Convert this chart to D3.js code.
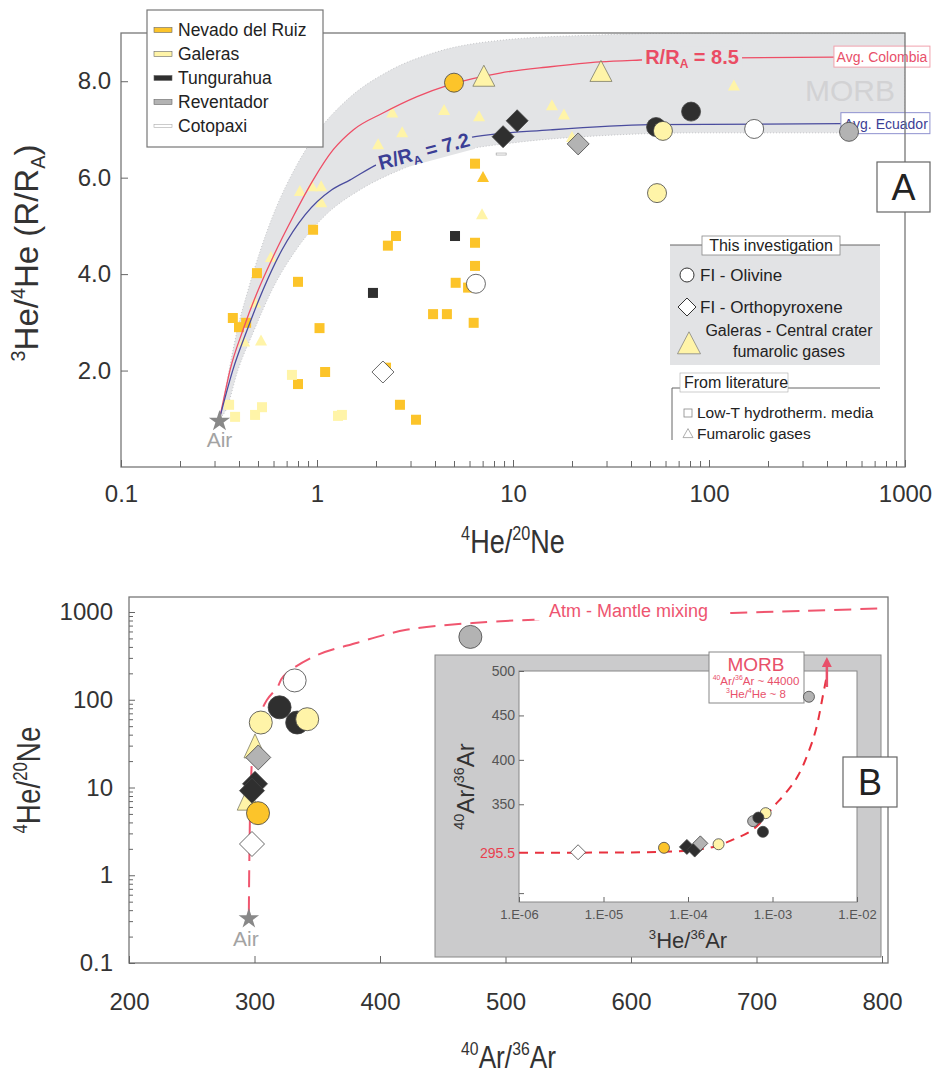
<!DOCTYPE html>
<html>
<head>
<meta charset="utf-8">
<script src="https://cdn.jsdelivr.net/npm/d3@7"></script>
<style>
  body { margin: 0; background: #fff; }
  svg { display: block; }
</style>
</head>
<body>
<div id="wrapper"></div>
<script>
/* ===== DATA : panel A  (4He/20Ne vs 3He/4He R/RA) ===== */
const volcanoNames = ['Nevado del Ruiz', 'Galeras', 'Tungurahua', 'Reventador', 'Cotopaxi'];
const volcanoFills = ['#fcc42a', '#fff4a8', '#2f2f2f', '#b3b3b3', '#ffffff'];

// literature, low-T hydrothermal media  [He/Ne, R/RA, volcano]
const litSquares = [
  [0.955, 4.92, 0], [0.494, 4.02, 0], [0.80, 3.84, 0], [0.372, 3.09, 0], [0.40, 2.90, 0],
  [0.435, 2.99, 0], [1.03, 2.88, 0], [1.10, 1.97, 0], [0.80, 1.72, 0],
  [6.40, 6.29, 0], [2.53, 4.79, 0], [2.30, 4.59, 0], [6.40, 4.65, 0], [6.40, 4.17, 0],
  [5.1, 3.82, 0], [5.9, 3.72, 0], [3.91, 3.17, 0], [4.60, 3.17, 0], [6.3, 2.99, 0],
  [2.25, 2.06, 0], [2.65, 1.29, 0], [3.2, 0.98, 0],
  [0.745, 1.91, 1], [0.356, 1.29, 1], [0.382, 1.04, 1], [0.483, 1.08, 1], [0.524, 1.24, 1],
  [1.28, 1.06, 1], [1.34, 1.08, 1],
  [5.06, 4.79, 2], [1.93, 3.61, 2]
];
// literature, fumarolic gases
const litTriangles = [
  [0.818, 5.71, 1], [0.942, 5.81, 1], [1.05, 5.81, 1], [1.05, 5.48, 1], [0.582, 4.34, 1],
  [0.483, 3.40, 1], [0.425, 2.59, 1], [0.518, 2.61, 1], [2.42, 7.34, 1], [4.45, 7.39, 1],
  [6.71, 7.26, 1], [2.72, 6.93, 1], [2.05, 6.68, 1], [15.8, 7.49, 1], [18.2, 7.30, 1],
  [20, 6.83, 1], [134, 7.90, 1], [6.95, 5.23, 1], [7.03, 6.0, 0]
];
const litBars = [[8.7, 6.49, 4]];

// this investigation
const olivineA = [[5.0, 7.97, 0], [81, 7.37, 2], [53.7, 7.05, 2], [58.2, 6.97, 1],
  [170, 7.01, 4], [518, 6.95, 3], [54.3, 5.68, 1], [6.47, 3.80, 4]];
const opxA = [[10.5, 7.18, 2], [8.9, 6.85, 2], [21.5, 6.70, 3], [2.17, 1.97, 4]];
const craterA = [[7.1, 8.07], [28.1, 8.17]];
const airA = [0.318, 0.95];

const curve85 = [[0.318, 1.0], [0.331, 1.33], [0.360, 2.01], [0.419, 2.84], [0.494, 3.61],
  [0.597, 4.36], [0.755, 5.19], [0.955, 5.95], [1.21, 6.58], [1.53, 6.99], [2.17, 7.34],
  [3.24, 7.68], [4.77, 7.93], [8.59, 8.17], [15.5, 8.30], [27.8, 8.40], [44.5, 8.44],
  [90, 8.48], [434, 8.5]];
const curve72 = [[0.318, 1.0], [0.372, 2.01], [0.440, 2.84], [0.530, 3.67], [0.662, 4.50],
  [0.869, 5.23], [1.19, 5.75], [1.47, 5.95], [2.02, 6.27], [3.36, 6.58], [6.40, 6.85],
  [15.5, 6.99], [50, 7.10], [471, 7.12]];
const morbTop = [[0.318, 1.0], [0.326, 1.18], [0.356, 2.01], [0.392, 2.84], [0.445, 3.67],
  [0.515, 4.50], [0.612, 5.33], [0.765, 6.16], [1.0, 6.93], [1.42, 7.61], [2.3, 8.20],
  [4.1, 8.61], [9.2, 8.86], [27.8, 8.96], [90, 9.0], [1000, 9.0]];
const morbBottom = [[0.318, 1.0], [0.343, 1.18], [0.395, 2.01], [0.478, 2.84], [0.589, 3.67],
  [0.781, 4.50], [1.11, 5.23], [1.66, 5.75], [2.65, 6.16], [4.77, 6.51], [10.9, 6.74],
  [27.8, 6.87], [90, 6.93], [1000, 6.93]];

const xTicksA = [0.1, 1, 10, 100, 1000];
const yTicksA = [2, 4, 6, 8];

/* ===== DATA : panel B  (40Ar/36Ar vs 4He/20Ne) ===== */
const olivineB = [[302.8, 5.1, 0], [320, 82, 2], [334, 55, 2], [305, 55, 1], [342, 60, 1],
  [332, 166, 4], [472, 520, 3]];
const opxB = [[300.4, 11, 2], [298, 9.2, 2], [303, 22, 3], [298, 2.27, 4]];
const craterB = [[295, 7.1], [300.4, 28]];
const airB = [295.5, 0.32];
const mixingB = [[295.5, 0.37], [296, 2], [297, 10], [299, 30], [303, 60], [310, 100],
  [318, 137], [323, 185], [347, 310], [382, 447], [421, 626], [474, 750], [560, 860],
  [650, 950], [740, 1030], [798, 1100]];
const xTicksB = [200, 300, 400, 500, 600, 700, 800];
const yTicksB = [0.1, 1, 10, 100, 1000];

/* ===== DATA : inset  (3He/36Ar vs 40Ar/36Ar) ===== */
const olivineI = [[5.2e-5, 301, 0], [2.3e-4, 305, 1], [5.9e-4, 331, 3], [8.3e-4, 340, 1],
  [6.8e-4, 335, 2], [7.7e-4, 319, 2], [2.7e-3, 471, 3]];
const opxI = [[5.0e-6, 296, 4], [9.7e-5, 302, 2], [1.2e-4, 299, 2], [1.4e-4, 306, 3]];
const mixingI = [[1e-6, 295.5], [1e-5, 295.6], [5e-5, 296.5], [1e-4, 298], [2e-4, 302],
  [3.2e-4, 309], [7e-4, 328], [1e-3, 346], [1.5e-3, 365], [2e-3, 382], [2.6e-3, 406],
  [3.4e-3, 441], [4e-3, 475], [4.4e-3, 495]];
const morbArrowI = [4.4e-3, 482, 510];
const xTicksI = [1e-6, 1e-5, 1e-4, 1e-3, 1e-2];
const xTickLabelsI = ['1.E-06', '1.E-05', '1.E-04', '1.E-03', '1.E-02'];
const yTicksI = [250, 350, 400, 450, 500];
const airArI = 295.5;

/* ===== LAYOUT ===== */
const FONT = '"Liberation Sans", Arial, sans-serif';
const frameA = { left: 121, right: 905, top: 33, bottom: 467 };
const frameB = { left: 129, right: 888, top: 597, bottom: 963 };
const inset = { left: 519, right: 857, top: 671, bottom: 902 };

const xA = d3.scaleLog().domain([0.1, 1000]).range([frameA.left, frameA.right]);
const yA = d3.scaleLinear().domain([0, 9]).range([frameA.bottom, frameA.top]);
const xB = d3.scaleLinear().domain([200, 800]).range([frameB.left, 882]);
const yB = d3.scaleLog().domain([0.1, 1000]).range([frameB.bottom, 612]);
const xI = d3.scaleLog().domain([1e-6, 1e-2]).range([inset.left, inset.right]);
const yI = d3.scaleLinear().domain([240, 500]).range([inset.bottom, inset.top]);

const svg = d3.select('#wrapper').append('svg')
  .attr('width', 938).attr('height', 1077)
  .attr('font-family', FONT);

const defs = svg.append('defs');
defs.append('clipPath').attr('id', 'clipA').append('rect')
  .attr('x', frameA.left).attr('y', frameA.top)
  .attr('width', frameA.right - frameA.left).attr('height', frameA.bottom - frameA.top);
defs.append('marker').attr('id', 'arrow').attr('viewBox', '0 0 10 10')
  .attr('refX', 5).attr('refY', 5).attr('markerWidth', 4).attr('markerHeight', 4)
  .attr('orient', 'auto-start-reverse')
  .append('path').attr('d', 'M0,0L10,5L0,10Z').attr('fill', '#e8506a');

// helper: text with super/subscripts
function rich(text, parts, size) {
  parts.forEach(p => {
    const [t, kind] = Array.isArray(p) ? p : [p, null];
    const ts = text.append('tspan').text(t);
    if (kind === 'sup') ts.attr('font-size', size * 0.6).attr('baseline-shift', size * 0.4);
    if (kind === 'sub') ts.attr('font-size', size * 0.6).attr('baseline-shift', -size * 0.2);
  });
  return text;
}
// axis title, optionally condensed (the original uses a narrow face for some)
function axisTitle(x, y, rotate, parts, size, squeeze) {
  const g = svg.append('g')
    .attr('transform', `translate(${x},${y}) rotate(${rotate}) scale(${squeeze},1)`);
  return rich(g.append('text').attr('text-anchor', 'middle').attr('font-size', size)
    .attr('fill', '#333'), parts, size);
}
const diamondPath = (cx, cy, r) => `M${cx},${cy - r}L${cx + r},${cy}L${cx},${cy + r}L${cx - r},${cy}Z`;
const trianglePath = (cx, cy, w, h) =>
  `M${cx},${cy - h * 0.6}L${cx + w / 2},${cy + h * 0.4}L${cx - w / 2},${cy + h * 0.4}Z`;
const minorLogTicks = (lo, hi) => {
  const out = [];
  for (let e = lo; e < hi; e++) for (let m = 2; m <= 9; m++) out.push(m * 10 ** e);
  return out;
};
function styleAxis(g, size, color) {
  g.select('.domain').remove();
  g.selectAll('.tick line').attr('stroke', '#666');
  g.selectAll('.tick text').attr('font-size', size).attr('fill', color || '#333')
    .attr('font-family', FONT);
}

/* ================= PANEL A ================= */
const plotA = svg.append('g').attr('clip-path', 'url(#clipA)');

const bandLine = d3.line().x(d => xA(d[0])).y(d => yA(d[1])).curve(d3.curveMonotoneX);
const bandPath = bandLine(morbTop) + 'L' + bandLine(morbBottom.slice().reverse()).slice(1) + 'Z';
plotA.append('path').attr('d', bandPath)
  .attr('fill', '#e3e4e6').attr('stroke', '#c4c5c8').attr('stroke-width', 1)
  .attr('stroke-dasharray', '1,2');

plotA.append('text').attr('x', 850).attr('y', yA(7.75)).attr('text-anchor', 'middle')
  .attr('dominant-baseline', 'middle').attr('font-size', 30).attr('fill', '#d2d2d4')
  .text('MORB');

const curveGen = d3.line().x(d => xA(d[0])).y(d => yA(d[1])).curve(d3.curveMonotoneX);
svg.append('path').attr('d', curveGen(curve85)).attr('fill', 'none')
  .attr('stroke', '#ee4e66').attr('stroke-width', 1.3);
svg.append('path').attr('d', curveGen(curve72)).attr('fill', 'none')
  .attr('stroke', '#4a4c9e').attr('stroke-width', 1.3);

// literature symbols
plotA.selectAll('rect.lit').data(litSquares).join('rect').attr('class', 'lit')
  .attr('x', d => xA(d[0]) - 5).attr('y', d => yA(d[1]) - 5)
  .attr('width', 10).attr('height', 10)
  .attr('fill', d => volcanoFills[d[2]]);
plotA.selectAll('path.littri').data(litTriangles).join('path').attr('class', 'littri')
  .attr('d', d => trianglePath(xA(d[0]), yA(d[1]), 12, 11))
  .attr('fill', d => volcanoFills[d[2]]);
plotA.selectAll('rect.bar').data(litBars).join('rect').attr('class', 'bar')
  .attr('x', d => xA(d[0]) - 5).attr('y', d => yA(d[1]) - 1)
  .attr('width', 10).attr('height', 2).attr('fill', '#fff').attr('stroke', '#999')
  .attr('stroke-width', 0.6);

// curve labels
const lab85 = svg.append('g')
  .attr('transform', `translate(${xA(curve85[15][0]) + 92},${yA(8.5)})`);
lab85.append('rect').attr('x', -50).attr('y', -11).attr('width', 100).attr('height', 22)
  .attr('fill', '#e3e4e6');
rich(lab85.append('text').attr('text-anchor', 'middle').attr('y', 7)
  .attr('font-size', 20).attr('font-weight', 'bold').attr('fill', '#ea4d64'),
  ['R/R', ['A', 'sub'], ' = 8.5'], 20);

const lab72 = svg.append('g')
  .attr('transform', `translate(424,${yA(6.55)}) rotate(-15)`);
lab72.append('rect').attr('x', -50).attr('y', -11).attr('width', 100).attr('height', 22)
  .attr('fill', '#e3e4e6');
rich(lab72.append('text').attr('text-anchor', 'middle').attr('y', 7)
  .attr('font-size', 20).attr('font-weight', 'bold').attr('fill', '#3b3e95'),
  ['R/R', ['A', 'sub'], ' = 7.2'], 20);

const endR = curve85[curve85.length - 1];
svg.append('rect').attr('x', xA(endR[0])).attr('y', yA(endR[1]) - 11)
  .attr('width', 96).attr('height', 21).attr('fill', '#fff').attr('stroke', '#f1a2ad');
svg.append('text').attr('x', xA(endR[0]) + 48).attr('y', yA(endR[1]) + 5)
  .attr('text-anchor', 'middle').attr('font-size', 14).attr('fill', '#e8506a')
  .text('Avg. Colombia');
const endB = curve72[curve72.length - 1];
svg.append('rect').attr('x', xA(endB[0])).attr('y', yA(endB[1]) - 11)
  .attr('width', 89).attr('height', 21).attr('fill', '#fff').attr('stroke', '#8f91cf');
svg.append('text').attr('x', xA(endB[0]) + 45).attr('y', yA(endB[1]) + 5)
  .attr('text-anchor', 'middle').attr('font-size', 14).attr('fill', '#3b3e95')
  .text('Avg. Ecuador');

// air star
const star = d3.symbol().type(d3.symbolStar);
svg.append('path').attr('d', star.size(140)())
  .attr('transform', `translate(${xA(airA[0])},${yA(airA[1])})`).attr('fill', '#888');
svg.append('text').attr('x', xA(airA[0])).attr('y', yA(airA[1]) + 26)
  .attr('text-anchor', 'middle').attr('font-size', 21).attr('fill', '#a3a3a3').text('Air');

// this investigation
svg.selectAll('path.craterA').data(craterA).join('path').attr('class', 'craterA')
  .attr('d', d => trianglePath(xA(d[0]), yA(d[1]), 22, 21))
  .attr('fill', '#fff4a8').attr('stroke', '#6b6b5a').attr('stroke-width', 0.7);
svg.selectAll('path.opxA').data(opxA).join('path').attr('class', 'opxA')
  .attr('d', d => diamondPath(xA(d[0]), yA(d[1]), 11))
  .attr('fill', d => volcanoFills[d[2]]).attr('stroke', '#444').attr('stroke-width', 0.8);
svg.selectAll('circle.olA').data(olivineA).join('circle').attr('class', 'olA')
  .attr('cx', d => xA(d[0])).attr('cy', d => yA(d[1])).attr('r', 9.5)
  .attr('fill', d => volcanoFills[d[2]]).attr('stroke', '#444').attr('stroke-width', 0.8);

// frame + axes
svg.append('rect').attr('x', frameA.left).attr('y', frameA.top)
  .attr('width', frameA.right - frameA.left).attr('height', frameA.bottom - frameA.top)
  .attr('fill', 'none').attr('stroke', '#777').attr('stroke-width', 1.3);

const xAxisA = svg.append('g').attr('transform', `translate(0,${frameA.bottom})`)
  .call(d3.axisBottom(xA).tickValues(xTicksA).tickFormat(d => String(d))
    .tickSize(-7).tickPadding(18));
styleAxis(xAxisA, 24);
const xMinorA = svg.append('g').attr('transform', `translate(0,${frameA.bottom})`)
  .call(d3.axisBottom(xA).tickValues(minorLogTicks(-1, 3)).tickFormat('').tickSize(-6));
styleAxis(xMinorA, 24);

const yAxisA = svg.append('g').attr('transform', `translate(${frameA.left},0)`)
  .call(d3.axisLeft(yA).tickValues(yTicksA).tickFormat(d3.format('.1f'))
    .tickSize(-7).tickPadding(10));
styleAxis(yAxisA, 24);

axisTitle((frameA.left + frameA.right) / 2, 553, 0,
  [['4', 'sup'], 'He/', ['20', 'sup'], 'Ne'], 33, 0.82);
axisTitle(38, (frameA.top + frameA.bottom) / 2 + 3, -90,
  [['3', 'sup'], 'He/', ['4', 'sup'], 'He (R/R', ['A', 'sub'], ')'], 33, 1);

// legend: volcanoes
const legV = svg.append('g');
legV.append('rect').attr('x', 147).attr('y', 10).attr('width', 176).attr('height', 137)
  .attr('fill', '#fff').attr('stroke', '#777').attr('stroke-width', 1.2);
legV.selectAll('g.item').data(volcanoNames).join('g').attr('class', 'item')
  .attr('transform', (d, i) => `translate(154,${30 + i * 24})`)
  .each(function (d, i) {
    const g = d3.select(this);
    g.append('rect').attr('x', 0).attr('y', i === 4 ? -1.5 : -2.5)
      .attr('width', 18).attr('height', i === 4 ? 3 : 5)
      .attr('fill', volcanoFills[i]).attr('stroke', i === 4 ? '#aaa' : '#666')
      .attr('stroke-width', 0.6);
    g.append('text').attr('x', 24).attr('y', 6).attr('font-size', 17.5)
      .attr('fill', '#222').text(d);
  });

// legend: symbols
const legS = svg.append('g');
legS.append('rect').attr('x', 670).attr('y', 245).attr('width', 210).attr('height', 120)
  .attr('fill', '#e2e3e5');
legS.append('line').attr('x1', 670).attr('x2', 880).attr('y1', 245).attr('y2', 245)
  .attr('stroke', '#666');
legS.append('rect').attr('x', 702).attr('y', 236).attr('width', 138).attr('height', 19)
  .attr('fill', '#fff').attr('stroke', '#888').attr('stroke-width', 0.8);
legS.append('text').attr('x', 771).attr('y', 251).attr('text-anchor', 'middle')
  .attr('font-size', 16).attr('fill', '#222').text('This investigation');
legS.append('circle').attr('cx', 687).attr('cy', 275).attr('r', 7)
  .attr('fill', '#fff').attr('stroke', '#333').attr('stroke-width', 1);
legS.append('text').attr('x', 700).attr('y', 281).attr('font-size', 17).attr('fill', '#222')
  .text('FI - Olivine');
legS.append('path').attr('d', diamondPath(687, 307, 9))
  .attr('fill', '#fff').attr('stroke', '#333').attr('stroke-width', 1);
legS.append('text').attr('x', 700).attr('y', 313).attr('font-size', 17).attr('fill', '#222')
  .text('FI - Orthopyroxene');
legS.append('path').attr('d', trianglePath(689, 345, 23, 22))
  .attr('fill', '#fff4a8').attr('stroke', '#777').attr('stroke-width', 0.7);
legS.append('text').attr('x', 789).attr('y', 336).attr('text-anchor', 'middle')
  .attr('font-size', 16).attr('fill', '#222').text('Galeras - Central crater');
legS.append('text').attr('x', 789).attr('y', 357).attr('text-anchor', 'middle')
  .attr('font-size', 16).attr('fill', '#222').text('fumarolic gases');

legS.append('path').attr('d', 'M880,388H672V440').attr('fill', 'none')
  .attr('stroke', '#666').attr('stroke-width', 1);
legS.append('rect').attr('x', 680).attr('y', 373).attr('width', 108).attr('height', 19)
  .attr('fill', '#fff').attr('stroke', '#aaa').attr('stroke-width', 0.6);
legS.append('text').attr('x', 684).attr('y', 388).attr('font-size', 16).attr('fill', '#222')
  .text('From literature');
legS.append('rect').attr('x', 684).attr('y', 409).attr('width', 8).attr('height', 8)
  .attr('fill', '#fff').attr('stroke', '#888').attr('stroke-width', 0.8);
legS.append('text').attr('x', 697).attr('y', 418).attr('font-size', 15.5).attr('fill', '#222')
  .text('Low-T hydrotherm. media');
legS.append('path').attr('d', trianglePath(688, 434, 10, 9))
  .attr('fill', '#fff').attr('stroke', '#999').attr('stroke-width', 0.8);
legS.append('text').attr('x', 697).attr('y', 439).attr('font-size', 15.5).attr('fill', '#222')
  .text('Fumarolic gases');

// panel letter A
svg.append('rect').attr('x', 877).attr('y', 162).attr('width', 53).attr('height', 50)
  .attr('fill', '#fff').attr('stroke', '#666').attr('stroke-width', 1.2);
svg.append('text').attr('x', 903.5).attr('y', 200).attr('text-anchor', 'middle')
  .attr('font-size', 36).attr('fill', '#222').text('A');

/* ================= PANEL B ================= */
svg.append('rect').attr('x', frameB.left).attr('y', frameB.top)
  .attr('width', frameB.right - frameB.left).attr('height', frameB.bottom - frameB.top)
  .attr('fill', 'none').attr('stroke', '#777').attr('stroke-width', 1.3);

svg.append('path').attr('d', d3.line().x(d => xB(d[0])).y(d => yB(d[1]))
  .curve(d3.curveCatmullRom.alpha(0.5))(mixingB))
  .attr('fill', 'none').attr('stroke', '#f0566f').attr('stroke-width', 2)
  .attr('stroke-dasharray', '17,9');

const mixLabel = svg.append('g').attr('transform', `translate(${xB(598)},${yB(1040)})`);
mixLabel.append('rect').attr('x', -94).attr('y', -12).attr('width', 188).attr('height', 22)
  .attr('fill', '#fff');
mixLabel.append('text').attr('text-anchor', 'middle').attr('y', 6).attr('font-size', 18)
  .attr('fill', '#ee5470').text('Atm - Mantle mixing');

svg.append('path').attr('d', star.size(130)())
  .attr('transform', `translate(${xB(airB[0])},${yB(airB[1])})`).attr('fill', '#888');
svg.append('text').attr('x', xB(airB[0]) - 3).attr('y', yB(airB[1]) + 27)
  .attr('text-anchor', 'middle').attr('font-size', 21).attr('fill', '#a3a3a3').text('Air');

svg.selectAll('path.craterB').data(craterB).join('path').attr('class', 'craterB')
  .attr('d', d => trianglePath(xB(d[0]), yB(d[1]), 22, 24))
  .attr('fill', '#fff4a8').attr('stroke', '#6b6b5a').attr('stroke-width', 0.7);
svg.selectAll('path.opxB').data(opxB).join('path').attr('class', 'opxB')
  .attr('d', d => diamondPath(xB(d[0]), yB(d[1]), 12.5))
  .attr('fill', d => volcanoFills[d[2]]).attr('stroke', '#444').attr('stroke-width', 0.8);
svg.selectAll('circle.olB').data(olivineB).join('circle').attr('class', 'olB')
  .attr('cx', d => xB(d[0])).attr('cy', d => yB(d[1])).attr('r', 11.5)
  .attr('fill', d => volcanoFills[d[2]]).attr('stroke', '#444').attr('stroke-width', 0.8);

const xAxisB = svg.append('g').attr('transform', `translate(0,${frameB.bottom})`)
  .call(d3.axisBottom(xB).tickValues(xTicksB).tickFormat(d3.format('d'))
    .tickSize(-7).tickPadding(30));
styleAxis(xAxisB, 24);
const yAxisB = svg.append('g').attr('transform', `translate(${frameB.left},0)`)
  .call(d3.axisLeft(yB).tickValues(yTicksB).tickFormat(d => String(d))
    .tickSize(-6).tickPadding(16));
styleAxis(yAxisB, 24);
const yMinorB = svg.append('g').attr('transform', `translate(${frameB.left},0)`)
  .call(d3.axisLeft(yB).tickValues(minorLogTicks(-1, 3)).tickFormat('').tickSize(-4));
styleAxis(yMinorB, 24);

axisTitle((frameB.left + frameB.right) / 2, 1068, 0,
  [['40', 'sup'], 'Ar/', ['36', 'sup'], 'Ar'], 32, 0.82);
axisTitle(40, (frameB.top + frameB.bottom) / 2, -90,
  [['4', 'sup'], 'He/', ['20', 'sup'], 'Ne'], 34, 0.82);

/* ---------- inset ---------- */
svg.append('rect').attr('x', 435).attr('y', 655).attr('width', 446).attr('height', 302)
  .attr('fill', '#cbcbcc').attr('stroke', '#888').attr('stroke-width', 1);
svg.append('rect').attr('x', inset.left).attr('y', inset.top)
  .attr('width', inset.right - inset.left).attr('height', inset.bottom - inset.top)
  .attr('fill', '#fff').attr('stroke', '#888').attr('stroke-width', 1);

const xAxisI = svg.append('g').attr('transform', `translate(0,${inset.bottom})`)
  .call(d3.axisBottom(xI).tickValues(xTicksI).tickFormat((d, i) => xTickLabelsI[i])
    .tickSize(-5).tickPadding(8));
styleAxis(xAxisI, 13, '#555');
const yAxisI = svg.append('g').attr('transform', `translate(${inset.left},0)`)
  .call(d3.axisLeft(yI).tickValues(yTicksI).tickFormat(d => d === 250 ? '' : d)
    .tickSize(-5).tickPadding(4));
styleAxis(yAxisI, 14, '#555');
svg.append('text').attr('x', inset.left - 4).attr('y', yI(airArI) + 5)
  .attr('text-anchor', 'end').attr('font-size', 14).attr('fill', '#e8404f').text('295.5');

rich(svg.append('text').attr('x', 688).attr('y', 948).attr('text-anchor', 'middle')
  .attr('font-size', 22).attr('fill', '#333'),
  [['3', 'sup'], 'He/', ['36', 'sup'], 'Ar'], 22);
rich(svg.append('text').attr('transform', `translate(474,${(inset.top + inset.bottom) / 2}) rotate(-90)`)
  .attr('text-anchor', 'middle').attr('font-size', 24).attr('fill', '#333'),
  [['40', 'sup'], 'Ar/', ['36', 'sup'], 'Ar'], 24);

svg.append('path').attr('d', d3.line().x(d => xI(d[0])).y(d => yI(d[1]))
  .curve(d3.curveMonotoneX)(mixingI))
  .attr('fill', 'none').attr('stroke', '#e8323f').attr('stroke-width', 2)
  .attr('stroke-dasharray', '9,7');

svg.append('line').attr('x1', xI(morbArrowI[0])).attr('x2', xI(morbArrowI[0]))
  .attr('y1', yI(morbArrowI[1])).attr('y2', yI(morbArrowI[2]))
  .attr('stroke', '#e8506a').attr('stroke-width', 2.5).attr('marker-end', 'url(#arrow)');

svg.append('rect').attr('x', 709).attr('y', 652).attr('width', 95).attr('height', 51)
  .attr('fill', '#fff').attr('stroke', '#888').attr('stroke-width', 1);
svg.append('text').attr('x', 756).attr('y', 671).attr('text-anchor', 'middle')
  .attr('font-size', 19).attr('fill', '#e8506a').text('MORB');
rich(svg.append('text').attr('x', 756).attr('y', 685).attr('text-anchor', 'middle')
  .attr('font-size', 11.5).attr('fill', '#e8506a'),
  [['40', 'sup'], 'Ar/', ['36', 'sup'], 'Ar ~ 44000'], 11.5);
rich(svg.append('text').attr('x', 756).attr('y', 698).attr('text-anchor', 'middle')
  .attr('font-size', 11.5).attr('fill', '#e8506a'),
  [['3', 'sup'], 'He/', ['4', 'sup'], 'He ~ 8'], 11.5);

svg.selectAll('path.opxI').data(opxI).join('path').attr('class', 'opxI')
  .attr('d', d => diamondPath(xI(d[0]), yI(d[1]), 7.5))
  .attr('fill', d => volcanoFills[d[2]]).attr('stroke', '#444').attr('stroke-width', 0.8);
svg.selectAll('circle.olI').data(olivineI).join('circle').attr('class', 'olI')
  .attr('cx', d => xI(d[0])).attr('cy', d => yI(d[1])).attr('r', 5.5)
  .attr('fill', d => volcanoFills[d[2]]).attr('stroke', '#444').attr('stroke-width', 0.8);

// panel letter B
svg.append('rect').attr('x', 843).attr('y', 757).attr('width', 54).attr('height', 50)
  .attr('fill', '#fff').attr('stroke', '#666').attr('stroke-width', 1.2);
svg.append('text').attr('x', 870).attr('y', 795).attr('text-anchor', 'middle')
  .attr('font-size', 36).attr('fill', '#222').text('B');
</script>
</body>
</html>
